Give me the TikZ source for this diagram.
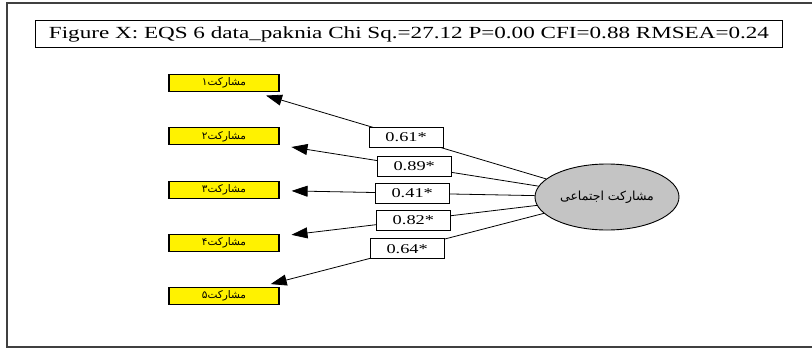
\documentclass[tikz,border=0pt]{standalone}
\usepackage{fontspec}
\setmainfont{Liberation Serif}
\newfontfamily\arabicfont[Script=Arabic]{DejaVu Sans}
\newfontfamily\wideserif[FakeStretch=1.36]{Liberation Serif}
\TeXXeTstate=1
\usetikzlibrary{arrows.meta,shapes.geometric}

\newcommand\boxX{224}
\newcommand\firstRow{83}
\newcommand\rowSep{53.3}
\newcommand\factorX{607}
\newcommand\factorY{197}

\tikzset{
  varbox/.style={draw=black, fill=yellow, line width=1.2pt, minimum width=110pt, minimum height=17pt, inner sep=0pt, font=\arabicfont\fontsize{10.5}{10.5}\selectfont},
  factor/.style={ellipse, draw=black, fill=black!23, line width=0.9pt, minimum width=144pt, minimum height=66pt, inner sep=0pt, font=\arabicfont\fontsize{12.5}{12.5}\selectfont},
  coef/.style={draw=black, fill=white, line width=1pt, minimum width=74pt, minimum height=20pt, inner sep=0pt, font=\wideserif\fontsize{13.5}{13.5}\selectfont},
  loadline/.style={line width=0.8pt, -{Triangle[length=16pt,width=11pt]}, shorten >=12pt}
}

\begin{document}
\begin{tikzpicture}[x=1pt,y=-1pt]
    \useasboundingbox (0,0) rectangle (812,349);
    \draw[line width=1.3pt, black!75] (812,3) -- (7,3) -- (7,347) -- (812,347);

    \node[draw=black, fill=white, line width=1.2pt, minimum width=747pt, minimum height=27pt, inner sep=0pt, font=\wideserif\fontsize{17}{17}\selectfont] (title) at (409,34) {Figure X: EQS 6 data\_paknia Chi Sq.=27.12 P=0.00 CFI=0.88 RMSEA=0.24};

    \node[factor] (f1) at (\factorX,\factorY) {\beginR مشارکت اجتماعی\endR};

    \foreach \Rnumber/\Pdigit in {1/۱,2/۲,3/۳,4/۴,5/۵}{
      \node[varbox] (v\Rnumber) at (\boxX,\firstRow+\rowSep*\Rnumber-\rowSep) {\beginR مشارکت\Pdigit\endR};
    }

    \foreach \Rnumber/\Coef in {1/0.61,2/0.89,3/0.41,4/0.82,5/0.64}{
      \draw[loadline] (f1) -- (v\Rnumber) node[coef, pos=0.48] {\Coef*};
    }

  \end{tikzpicture}
\end{document}
